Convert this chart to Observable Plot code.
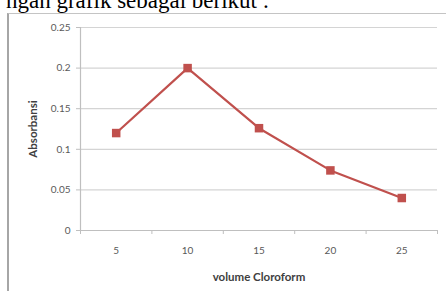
<!DOCTYPE html>
<html><head><meta charset="utf-8">
<script src="https://cdn.jsdelivr.net/npm/d3@7"></script>
<script src="https://cdn.jsdelivr.net/npm/@observablehq/plot@0.6"></script>
<style>
html,body{margin:0;padding:0;background:#fff;width:446px;height:291px;overflow:hidden;position:relative}
#intro{position:absolute;left:6px;top:-11px;font-family:"Liberation Serif","Times New Roman",serif;font-size:23px;line-height:23px;color:#000;white-space:nowrap}
#box{position:absolute;left:7px;top:13px;width:460px;height:300px;border-left:2px solid #a6a6a6;border-top:1.5px solid #c4c4c4}
#chart{position:absolute;left:0;top:0}
</style></head><body>
<div id="intro">ngan grafik sebagai berikut :</div>
<div id="box"></div>
<div id="chart"></div>
<script>
const volumes = [5, 10, 15, 20, 25];
const absorbansi = [0.12, 0.2, 0.126, 0.074, 0.04];
const yTicks = [0, 0.05, 0.1, 0.15, 0.2, 0.25];
const yTickLabels = ["0", "0.05", "0.1", "0.15", "0.2", "0.25"];
const xTickLabels = ["5", "10", "15", "20", "25"];
const xTitle = "volume Cloroform";
const yTitle = "Absorbansi";

const data = volumes.map((v, i) => ({volume: v, abs: absorbansi[i]}));
const step = volumes[1] - volumes[0];
const xDomain = [volumes[0] - step / 2, volumes[volumes.length - 1] + step / 2];
const boundaries = [xDomain[0], ...volumes.map(v => v + step / 2)];
const red = "#c0504d";

const chart = Plot.plot({
  width: 446,
  height: 291,
  marginLeft: 80,
  marginRight: 9,
  marginTop: 27,
  marginBottom: 61,
  style: {fontFamily: "Lato, 'Open Sans', sans-serif", fontSize: "10px", color: "#595959", background: "transparent", overflow: "visible"},
  x: {domain: xDomain},
  y: {domain: [0, 0.25]},
  marks: [
    Plot.gridY(yTicks.slice(1), {stroke: "#d4d4d4", strokeOpacity: 1, strokeWidth: 1.2}),
    Plot.ruleY([0], {stroke: "#bfbfbf", strokeWidth: 1.2}),
    Plot.ruleX([xDomain[0]], {stroke: "#bfbfbf", strokeWidth: 1.2}),
    Plot.axisY({ticks: yTicks, tickFormat: (d, i) => yTickLabels[i], tickSize: 4, tickPadding: 6, stroke: "#bfbfbf",
      label: yTitle, labelArrow: "none", labelAnchor: "center", labelOffset: 52}),
    Plot.axisX({ticks: boundaries, tickFormat: () => "", tickSize: 4, stroke: "#bfbfbf", label: null}),
    Plot.axisX({ticks: volumes, tickFormat: (d, i) => xTickLabels[i], tickSize: 0, tickPadding: 16,
      label: xTitle, labelArrow: "none", labelAnchor: "center", labelOffset: 50}),
    Plot.line(data, {x: "volume", y: "abs", stroke: red, strokeWidth: 2.2}),
    Plot.dot(data, {x: "volume", y: "abs", symbol: "square", fill: red, stroke: "none", r: 4.8})
  ]
});
document.getElementById("chart").appendChild(chart);
chart.querySelectorAll("text").forEach(t => {
  const s = t.textContent.trim();
  if (s === xTitle || s === yTitle) {
    t.setAttribute("font-weight", "bold");
    t.setAttribute("fill", "#404040");
    t.setAttribute("font-size", s === xTitle ? "11.5px" : "11.5px");
  }
});
</script>
</body></html>
